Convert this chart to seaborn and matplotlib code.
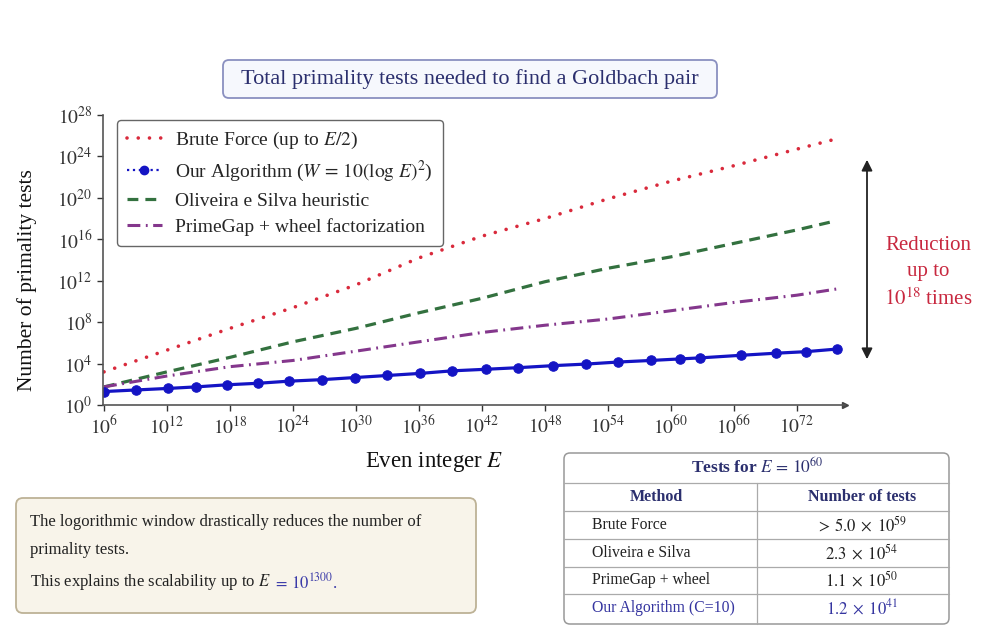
import numpy as np
import pandas as pd
import seaborn as sns
import matplotlib.pyplot as plt
from matplotlib.lines import Line2D
from matplotlib.patches import FancyBboxPatch
from matplotlib.ticker import FixedLocator, FuncFormatter, NullLocator

# exponents of E (E = 10^x) and log10 of the number of primality tests
exp_grid = [6, 12, 18, 24, 30, 36, 42, 48, 54, 60, 66, 72, 75.8]
brute_log = [3.2, 5.3, 7.4, 9.4, 11.6, 14.2, 16.3, 18.0, 19.9, 21.6, 23.1, 24.7, 25.7]
oliveira_log = [1.75, 3.2, 4.6, 6.1, 7.4, 8.9, 10.3, 11.9, 13.2, 14.3, 15.6, 16.9, 17.8]
primegap_log = [1.75, 2.8, 3.7, 4.3, 5.2, 6.1, 7.0, 7.7, 8.3, 9.1, 9.9, 10.6, 11.2]

our_exp = [6.0, 9.0, 12.1, 14.8, 17.7, 20.7, 23.6, 26.8, 29.9, 33.0, 36.1, 39.2,
           42.4, 45.4, 48.8, 51.9, 55.0, 58.1, 60.9, 62.8, 66.7, 70.0, 72.9, 75.8]
our_log = [1.30, 1.45, 1.60, 1.75, 1.95, 2.10, 2.30, 2.45, 2.65, 2.85, 3.05, 3.30,
           3.45, 3.60, 3.80, 3.95, 4.15, 4.30, 4.45, 4.55, 4.80, 5.00, 5.15, 5.40]

x_ticks = [6, 12, 18, 24, 30, 36, 42, 48, 54, 60, 66, 72]
y_ticks = [0, 4, 8, 12, 16, 20, 24, 28]

labels = ["Brute Force (up to $E/2$)",
          "Our Algorithm ($W\\,=\\,10(\\log\\,E)^2$)",
          "Oliveira e Silva heuristic",
          "PrimeGap + wheel factorization"]

table_title = "Tests for $E\\,=\\,10^{60}$"
table_header = ["Method", "Number of tests"]
table_methods = ["Brute Force", "Oliveira e Silva", "PrimeGap + wheel", "Our Algorithm (C=10)"]
table_values = ["$>\\,5.0\\;\\times\\;10^{59}$", "$2.3\\;\\times\\;10^{54}$",
                "$1.1\\;\\times\\;10^{50}$", "$1.2\\;\\times\\;10^{41}$"]

title = "Total primality tests needed to find a Goldbach pair"
note_lines = ["The logorithmic window drastically reduces the number of",
              "primality tests.",
              "This explains the scalability up to $E$"]
note_tail = "$\\,=\\,10^{1300}$."

RED = "#d92a3c"
GREEN = "#33713f"
PURPLE = "#84378c"
BLUE = "#1414c4"
NAVY = "#2b2f6e"

sns.set_theme(style="ticks")
plt.rcParams["font.family"] = ["Liberation Serif", "DejaVu Serif"]
plt.rcParams["mathtext.fontset"] = "stix"

fig = plt.figure(figsize=(10, 6.35), dpi=100)
fig.patch.set_facecolor("white")

# overlay in pixel coordinates for boxes, table and annotations
ov = fig.add_axes([0, 0, 1, 1])
ov.set_xlim(0, 1000)
ov.set_ylim(635, 0)
ov.axis("off")

ax = fig.add_axes([0.103, 1 - 405 / 635, 0.742, 290 / 635])
ax.set_facecolor("none")

lines = pd.DataFrame({"x": exp_grid,
                      "brute": np.power(10.0, brute_log),
                      "oliveira": np.power(10.0, oliveira_log),
                      "primegap": np.power(10.0, primegap_log)})
ours = pd.DataFrame({"x": our_exp, "y": np.power(10.0, our_log)})

sns.lineplot(data=lines, x="x", y="brute", ax=ax, color=RED, lw=2.6,
             linestyle=(0, (0.01, 3.1)), dash_capstyle="round")
sns.lineplot(data=lines, x="x", y="oliveira", ax=ax, color=GREEN, lw=2.3,
             linestyle=(0, (3.4, 2.2)))
sns.lineplot(data=lines, x="x", y="primegap", ax=ax, color=PURPLE, lw=2.2,
             linestyle=(0, (4.2, 1.8, 0.6, 1.8)))
sns.lineplot(data=ours, x="x", y="y", ax=ax, color=BLUE, lw=2.3, marker="o",
             markersize=6.8, markeredgecolor=BLUE)

ax.set_yscale("log")
ax.set_xlim(5.9, 76.6)
ax.set_ylim(1, 1e28)
ax.xaxis.set_major_locator(FixedLocator(x_ticks))
ax.xaxis.set_major_formatter(FuncFormatter(lambda v, p: "$10^{%d}$" % round(v)))
ax.yaxis.set_major_locator(FixedLocator([10.0 ** k for k in y_ticks]))
ax.yaxis.set_major_formatter(FuncFormatter(lambda v, p: "$10^{%d}$" % round(np.log10(v))))
ax.yaxis.set_minor_locator(NullLocator())
ax.xaxis.set_minor_locator(NullLocator())
ax.tick_params(labelsize=14, colors="#333333", length=4, width=1)
for s in ["top", "right"]:
    ax.spines[s].set_visible(False)
for s in ["left", "bottom"]:
    ax.spines[s].set_color("#555555")
    ax.spines[s].set_linewidth(1.2)
ax.plot(1, 0, ">", color="#444444", ms=5, transform=ax.transAxes, clip_on=False)

ax.set_xlabel("Even integer $E$", fontsize=16.5, color="#111111", va="center")
ax.xaxis.set_label_coords(0.447, -0.197)
ax.set_ylabel("Number of primality tests", fontsize=15.5, color="#111111", va="center")
ax.yaxis.set_label_coords(-0.102, 0.431)

handles = [ax.lines[0], Line2D([], [], color=BLUE, ls=":", lw=1.6, marker="o", ms=6),
           ax.lines[1], ax.lines[2]]
leg = ax.legend(handles, labels, loc="upper left", bbox_to_anchor=(0.117, 0.811),
                bbox_transform=fig.transFigure, borderaxespad=0, fontsize=14,
                handlelength=1.8, handletextpad=0.7, labelspacing=0.42,
                borderpad=0.5, frameon=True, fancybox=True, framealpha=1)
leg.get_frame().set_edgecolor("#666666")
leg.get_frame().set_linewidth(1.0)

# title box
ov.add_patch(FancyBboxPatch((223, 60), 494, 38, boxstyle="round,pad=0,rounding_size=6",
                            fc="#f6f8fd", ec="#8a90c0", lw=1.3))
ov.text(470, 79, title, ha="center", va="center", fontsize=16, color=NAVY)

# reduction arrow
ov.annotate("", xy=(867, 157), xytext=(867, 362),
            arrowprops=dict(arrowstyle="<|-|>", color="#222222", lw=1.3, mutation_scale=16))
ov.text(928, 273, "Reduction\nup to\n$10^{18}$ times", ha="center", va="center",
        fontsize=15, color="#c8283f", linespacing=1.45)

# note box
ov.add_patch(FancyBboxPatch((16, 498), 460, 115, boxstyle="round,pad=0,rounding_size=7",
                            fc="#f8f4ea", ec="#bdb296", lw=1.3))
note_y = [522, 550, 582]
for txt, yy in zip(note_lines, note_y):
    t = ov.text(30, yy, txt, ha="left", va="center", fontsize=12, color="#222222")
ov.annotate(note_tail, xy=(1, 0.5), xycoords=t, ha="left", va="center",
            fontsize=12, color="#3a3aa8")

# table
ov.add_patch(FancyBboxPatch((564, 453), 385, 171, boxstyle="round,pad=0,rounding_size=6",
                            fc="white", ec="#999999", lw=1.1))
for yy in [483, 511, 539, 567, 594]:
    ov.plot([564, 949], [yy, yy], color="#aaaaaa", lw=0.9)
ov.plot([757, 757], [483, 624], color="#aaaaaa", lw=0.9)
ov.text(757, 467, table_title, ha="center", va="center", fontsize=12.5,
        fontweight="bold", color=NAVY)
ov.text(656, 497, table_header[0], ha="center", va="center", fontsize=11.5,
        fontweight="bold", color=NAVY)
ov.text(862, 497, table_header[1], ha="center", va="center", fontsize=11.5,
        fontweight="bold", color=NAVY)
row_y = [525, 553, 580, 608]
for i, (m, v, yy) in enumerate(zip(table_methods, table_values, row_y)):
    c = "#3535a0" if i == len(table_methods) - 1 else "#222222"
    ov.text(592, yy, m, ha="left", va="center", fontsize=11.3, color=c)
    ov.text(862, yy, v, ha="center", va="center", fontsize=12, color=c)

fig.savefig("out.png", dpi=100)
